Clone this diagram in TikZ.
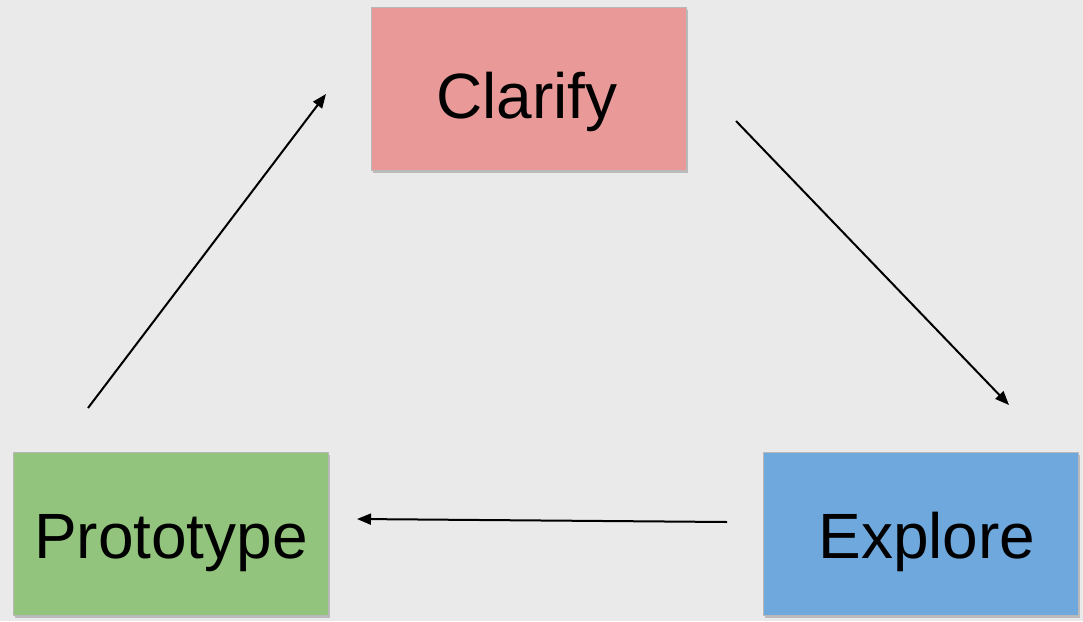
\documentclass[tikz,border=0pt]{standalone}
\usepackage{fontspec}
\setmainfont{Liberation Sans}
\usetikzlibrary{shadows,arrows.meta}
\definecolor{bg}{HTML}{EAEAEA}
\definecolor{cred}{HTML}{EA9999}
\definecolor{cgreen}{HTML}{93C47D}
\definecolor{cblue}{HTML}{6FA8DC}
\definecolor{cborder}{HTML}{B8B8B8}
\begin{document}
\begin{tikzpicture}[x=1pt,y=-1pt,
  boxstyle/.style={draw=cborder,line width=1pt,minimum width=315pt,minimum height=163pt,
    inner sep=0pt,drop shadow={shadow xshift=1.5pt,shadow yshift=-2.5pt,opacity=0.35,fill=black!60}},
  lbl/.style={font=\fontsize{64}{70}\selectfont,anchor=base},
  conn/.style={line width=2pt,-{Triangle[length=14pt,width=11pt]}}]
\fill[bg] (0,0) rectangle (1083,621);
\useasboundingbox (0,0) rectangle (1083,621);
\node[boxstyle,fill=cred] (clarify) at (528.5,88.5) {};
\node[boxstyle,fill=cgreen] (proto) at (170.5,534) {};
\node[boxstyle,fill=cblue] (explore) at (921,534) {};
\node[lbl] (tc) at (527,118) {Clarify};
\node[lbl] (tp) at (171,558) {Prototype};
\node[lbl] (te) at (927,558) {Explore};
\coordinate (a1) at (88,408);
\coordinate (a2) at (326,94);
\coordinate (b1) at (736,121);
\coordinate (b2) at (1009,405);
\coordinate (c1) at (727,522);
\coordinate (c2) at (357,519);
\draw[conn] (a1) -- (a2);
\draw[conn] (b1) -- (b2);
\draw[conn] (c1) -- (c2);
\end{tikzpicture}
\end{document}
